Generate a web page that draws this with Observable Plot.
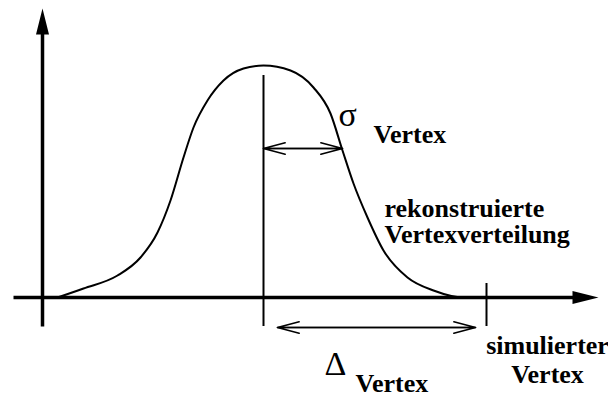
<!DOCTYPE html>
<html>
<head>
<meta charset="utf-8">
<script src="https://cdn.jsdelivr.net/npm/d3@7"></script>
<script src="https://cdn.jsdelivr.net/npm/@observablehq/plot@0.6"></script>
<style>
  html, body { margin: 0; padding: 0; background: #fff; }
  #chart svg { display: block; }
</style>
</head>
<body>
<div id="chart"></div>
<script>
// Schematic coordinate system: origin where the axes cross, y up.
// Reconstructed vertex distribution
const curveX = [15, 41, 75, 98, 115, 128, 141, 151, 165, 181, 201, 221, 248, 271, 288, 300, 311, 325, 341, 365, 391, 421, 428];
const curveY = [0, 9, 22, 40, 65, 97, 140, 170, 197, 217, 229, 232, 227, 210, 184, 147, 114, 80, 47, 20, 7, 0, 0];

// Axes (start, end)
const yAxisX = [0];
const yAxisFrom = [-29];
const yAxisTo = [289];
const xAxisY = [0];
const xAxisFrom = [-29];
const xAxisTo = [556];

// Vertical markers: peak of reconstruction and simulated vertex
const markerX = [221, 444];
const markerFrom = [-29, -29];
const markerTo = [222, 14];

// Double arrows: sigma (width) and delta (offset)
const arrowY = [149, -30];
const arrowFrom = [221, 235];
const arrowTo = [300, 433];

// Labels
const greekText = ["σ", "Δ"];
const greekX = [296, 282];
const greekY = [172, -77];
const subText = ["Vertex", "Vertex"];
const subX = [331, 313];
const subY = [155, -94];
const noteText = ["rekonstruierte", "Vertexverteilung"];
const noteX = [342, 342];
const noteY = [81, 55];
const simText = ["simulierter", "Vertex"];
const simX = [505, 505];
const simY = [-56, -85];

const curve = curveX.map((x, i) => ({x, y: curveY[i]}));
const axisSegs = [
  {x1: yAxisX[0], y1: yAxisFrom[0], x2: yAxisX[0], y2: yAxisTo[0] - 24},
  {x1: xAxisFrom[0], y1: xAxisY[0], x2: xAxisTo[0] - 24, y2: xAxisY[0]}
];
const upTip = [{x: yAxisX[0], y: yAxisTo[0]}];
const rightTip = [{x: xAxisTo[0], y: xAxisY[0]}];
const markers = markerX.map((x, i) => ({x, y1: markerFrom[i], y2: markerTo[i]}));
const arrows = arrowY.flatMap((y, i) => [
  {x1: arrowFrom[i], x2: arrowTo[i], y},
  {x1: arrowTo[i], x2: arrowFrom[i], y}
]);
const greek = greekText.map((t, i) => ({t, x: greekX[i], y: greekY[i]}));
const subs = subText.map((t, i) => ({t, x: subX[i], y: subY[i]}));
const notes = noteText.map((t, i) => ({t, x: noteX[i], y: noteY[i]}));
const sims = simText.map((t, i) => ({t, x: simX[i], y: simY[i]}));

const upHead = {draw(ctx) { ctx.moveTo(0, 0); ctx.lineTo(-6.5, 26); ctx.lineTo(6.5, 26); ctx.closePath(); }};
const rightHead = {draw(ctx) { ctx.moveTo(0, 0); ctx.lineTo(-26, -6.5); ctx.lineTo(-26, 6.5); ctx.closePath(); }};

const font = "Liberation Serif, Times New Roman, serif";

const chart = Plot.plot({
  width: 608,
  height: 396,
  margin: 0,
  style: {background: "#fff", fontFamily: font},
  x: {domain: [-42, 566], axis: null},
  y: {domain: [-99, 297], axis: null},
  marks: [
    Plot.link(axisSegs, {x1: "x1", y1: "y1", x2: "x2", y2: "y2", stroke: "black", strokeWidth: 3.5}),
    Plot.dot(upTip, {x: "x", y: "y", symbol: upHead, fill: "black", stroke: "none", r: 5}),
    Plot.dot(rightTip, {x: "x", y: "y", symbol: rightHead, fill: "black", stroke: "none", r: 5}),
    Plot.ruleX(markers, {x: "x", y1: "y1", y2: "y2", stroke: "black", strokeWidth: 2}),
    Plot.line(curve, {x: "x", y: "y", curve: "monotone-x", stroke: "black", strokeWidth: 2}),
    Plot.arrow(arrows, {x1: "x1", x2: "x2", y1: "y", y2: "y", stroke: "black", strokeWidth: 1.6, headLength: 21, headAngle: 30}),
    Plot.text(greek, {x: "x", y: "y", text: "t", textAnchor: "start", lineAnchor: "bottom", fontSize: 34, fill: "black", fontFamily: font}),
    Plot.text(subs, {x: "x", y: "y", text: "t", textAnchor: "start", lineAnchor: "bottom", fontSize: 26, fontWeight: "bold", fill: "black", fontFamily: font}),
    Plot.text(notes, {x: "x", y: "y", text: "t", textAnchor: "start", lineAnchor: "bottom", fontSize: 26, fontWeight: "bold", fill: "black", fontFamily: font}),
    Plot.text(sims, {x: "x", y: "y", text: "t", textAnchor: "middle", lineAnchor: "bottom", fontSize: 26, fontWeight: "bold", fill: "black", fontFamily: font})
  ]
});
document.getElementById("chart").appendChild(chart);
</script>
</body>
</html>
